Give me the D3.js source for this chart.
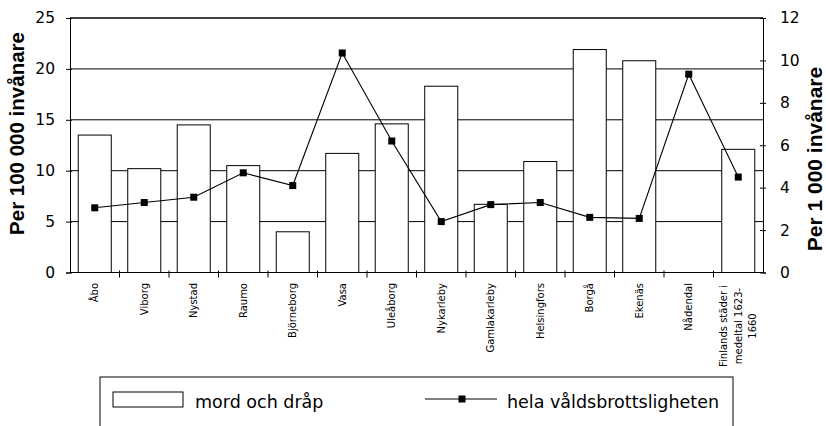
<!DOCTYPE html>
<html><head><meta charset="utf-8">
<script src="https://cdn.jsdelivr.net/npm/d3@7"></script>
<style>body{margin:0;background:#fff} svg{display:block;background:#fff}</style>
</head><body><svg id="c" width="826" height="426"></svg>
<script>
// ---- data ----
const categories = ["Åbo","Viborg","Nystad","Raumo","Björneborg","Vasa","Uleåborg","Nykarleby","Gamlakarleby","Helsingfors","Borgå","Ekenäs","Nådendal","Finlands städer i\nmedeltal 1623-\n1660"];
const mordOchDrap = [13.5,10.2,14.5,10.5,4.0,11.7,14.6,18.3,6.7,10.9,21.9,20.8,null,12.1];
const valdsbrott = [3.05,3.3,3.55,4.7,4.1,10.35,6.2,2.4,3.2,3.3,2.6,2.55,9.35,4.5];
const leftTicks = [0,5,10,15,20,25];
const rightTicks = [0,2,4,6,8,10,12];
const seriesNames = ["mord och dråp","hela våldsbrottsligheten"];
const axisTitles = ["Per 100 000 invånare","Per 1 000 invånare"];

// ---- layout ----
const svg = d3.select("#c");
const L = 70, R = 763, T = 18, B = 272.5;
const x = d3.scaleBand().domain(categories).range([L, R]).paddingInner(0.333).paddingOuter(0.1665);
const xStep = d3.scaleBand().domain(categories).range([L, R]);
const yL = d3.scaleLinear().domain([0,25]).range([B, T]);
const yR = d3.scaleLinear().domain([0,12]).range([B, T]);
const tickFont = "'DejaVu Sans', sans-serif";

// gridlines
svg.append("g").selectAll("line").data(leftTicks.filter(d=>d>0)).join("line")
  .attr("x1", L).attr("x2", R).attr("y1", d=>yL(d)).attr("y2", d=>yL(d))
  .attr("stroke","#000").attr("stroke-width",1);

// bars
svg.append("g").selectAll("rect")
  .data(categories.map((c,i)=>({c, v: mordOchDrap[i]})).filter(d=>d.v!=null))
  .join("rect")
  .attr("x", d=>x(d.c)).attr("width", x.bandwidth())
  .attr("y", d=>yL(d.v)).attr("height", d=>yL(0)-yL(d.v))
  .attr("fill","#fff").attr("stroke","#000").attr("stroke-width",1);

// left axis
const gl = svg.append("g").attr("transform",`translate(${L},0)`)
  .call(d3.axisLeft(yL).tickValues(leftTicks).tickSize(4).tickPadding(11).tickFormat(d3.format("d")));
gl.select(".domain").attr("stroke","#000");
gl.selectAll(".tick line").attr("x2",2).attr("x1",-4);
gl.selectAll("text").attr("font-family",tickFont).attr("font-size",15.5).attr("fill","#000").attr("x",-15);

// right axis
const gr = svg.append("g").attr("transform",`translate(${R},0)`)
  .call(d3.axisRight(yR).tickValues(rightTicks).tickSize(3).tickPadding(14).tickFormat(d3.format("d")));
gr.select(".domain").attr("stroke","#000");
gr.selectAll(".tick line").attr("x1",-3).attr("x2",3);
gr.selectAll("text").attr("font-family",tickFont).attr("font-size",15.5).attr("fill","#000");

// bottom axis with ticks at category boundaries
const gb = svg.append("g").attr("transform",`translate(0,${B})`)
  .call(d3.axisBottom(x).tickSize(0).tickFormat(""));
gb.select(".domain").attr("stroke","#000").attr("d",`M${L},0H${R}`);
svg.append("g").selectAll("line").data(categories.slice(1)).join("line")
  .attr("x1", d=>xStep(d)).attr("x2", d=>xStep(d))
  .attr("y1", B-2).attr("y2", B+5).attr("stroke","#000");

// top frame line
svg.append("line").attr("x1",L).attr("x2",R).attr("y1",T).attr("y2",T).attr("stroke","#000");

// category labels
const lab = svg.append("g").selectAll("g").data(categories).join("g")
  .attr("transform", d=>`translate(${x(d)+x.bandwidth()/2},283) rotate(-90)`);
lab.each(function(d){
  const lines = d.split("\n");
  const g = d3.select(this);
  if (lines.length === 1) {
    g.append("text").attr("text-anchor","end").attr("dy","0.35em")
      .attr("font-family",tickFont).attr("font-size",10).attr("fill","#000").text(d);
  } else {
    const t = g.append("text").attr("text-anchor","middle")
      .attr("font-family",tickFont).attr("font-size",10).attr("fill","#000");
    lines.forEach((ln,i)=>{
      t.append("tspan").attr("x",-43).attr("y",(i-(lines.length-1)/2)*14.5).attr("dy","0.35em").text(ln);
    });
  }
});

// line series
const pts = categories.map((c,i)=>({c, v: valdsbrott[i]}));
svg.append("path").datum(pts)
  .attr("d", d3.line().x(d=>x(d.c)+x.bandwidth()/2).y(d=>yR(d.v)))
  .attr("fill","none").attr("stroke","#000").attr("stroke-width",1.1);
svg.append("g").selectAll("rect").data(pts).join("rect")
  .attr("x", d=>x(d.c)+x.bandwidth()/2-3.5).attr("y", d=>yR(d.v)-3.5)
  .attr("width",7).attr("height",7).attr("fill","#000");

// axis titles
svg.append("text").attr("transform","translate(17,133.5) rotate(-90)")
  .attr("text-anchor","middle").attr("dy","0.35em")
  .attr("font-family","'Liberation Sans', Arial, sans-serif").attr("font-weight","bold")
  .attr("font-size",20.5).attr("fill","#000").text(axisTitles[0]);
svg.append("text").attr("transform","translate(815,159) rotate(-90)")
  .attr("text-anchor","middle").attr("dy","0.35em")
  .attr("font-family","'Liberation Sans', Arial, sans-serif").attr("font-weight","bold")
  .attr("font-size",21).attr("fill","#000").text(axisTitles[1]);

// legend
const lg = svg.append("g");
lg.append("rect").attr("x",100).attr("y",377).attr("width",633).attr("height",70)
  .attr("fill","none").attr("stroke","#000").attr("stroke-width",1);
lg.append("rect").attr("x",113).attr("y",392).attr("width",70).attr("height",15)
  .attr("fill","#fff").attr("stroke","#000");
lg.append("text").attr("x",195).attr("y",408).attr("font-family",tickFont).attr("font-size",17.5)
  .attr("fill","#000").text(seriesNames[0]);
lg.append("line").attr("x1",425).attr("x2",497).attr("y1",399).attr("y2",399).attr("stroke","#000");
lg.append("rect").attr("x",458.5).attr("y",395.5).attr("width",7).attr("height",7).attr("fill","#000");
lg.append("text").attr("x",507).attr("y",408).attr("font-family",tickFont).attr("font-size",17.5)
  .attr("fill","#000").text(seriesNames[1]);
</script>
</body></html>
